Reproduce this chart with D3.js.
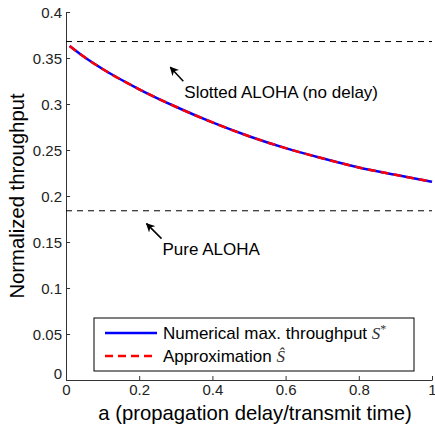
<!DOCTYPE html>
<html>
<head>
<meta charset="utf-8">
<title>Throughput vs propagation delay</title>
<style>
  body { margin: 0; background: #fff; }
  svg { font-family: "Liberation Sans", Arial, sans-serif; }
  .axis path, .axis line { stroke: #333; }
  .axis text { fill: #222; font-size: 15px; }
</style>
</head>
<body>
<script src="https://cdn.jsdelivr.net/npm/d3@7"></script>
<script>
// data
var delay = [0.01, 0.05, 0.1, 0.2, 0.3, 0.4, 0.5, 0.6, 0.7, 0.8, 0.9, 1.0];
var numerical = [0.363, 0.351, 0.338, 0.316, 0.297, 0.280, 0.265, 0.252, 0.241, 0.231, 0.223, 0.2155];
var approx = [0.363, 0.351, 0.338, 0.316, 0.297, 0.280, 0.265, 0.252, 0.241, 0.231, 0.223, 0.2155];
var slotted = 1 / Math.E;        // 0.368
var pure = 1 / (2 * Math.E);     // 0.184
var xTicks = [0, 0.2, 0.4, 0.6, 0.8, 1];
var yTicks = [0, 0.05, 0.1, 0.15, 0.2, 0.25, 0.3, 0.35, 0.4];

var W = 435, H = 430;
var margin = {top: 12, right: 3, bottom: 50, left: 66};

var svg = d3.select("body").append("svg")
  .attr("width", W)
  .attr("height", H);

var x = d3.scaleLinear().domain([0, 1]).range([margin.left, W - margin.right]);
var y = d3.scaleLinear().domain([0, 0.4]).range([H - margin.bottom, margin.top]);

// axes, MATLAB style ticks pointing inward
var xAxis = d3.axisBottom(x).tickValues(xTicks).tickSizeInner(-4).tickSizeOuter(0)
  .tickFormat(function(d) { return d3.format("")(d); });
var yAxis = d3.axisLeft(y).tickValues(yTicks).tickSizeInner(-4).tickSizeOuter(0)
  .tickFormat(function(d) { return d3.format("")(d); });

var gx = svg.append("g").attr("class", "axis")
  .attr("transform", "translate(0," + y(0) + ")")
  .call(xAxis);
gx.selectAll("text").attr("dy", null).attr("y", 15);
gx.selectAll(".tick").filter(function(d) { return d === 1; })
  .select("text").attr("text-anchor", "end").attr("dx", "4");

var gy = svg.append("g").attr("class", "axis")
  .attr("transform", "translate(" + x(0) + ",0)")
  .call(yAxis);
gy.selectAll("text").attr("x", -4).attr("dy", "0.35em");
gy.selectAll(".tick").filter(function(d) { return d === 0; })
  .select("text").attr("dy", "-0.1em");

// reference levels
[slotted, pure].forEach(function(v) {
  svg.append("line")
    .attr("x1", x(0)).attr("x2", x(1))
    .attr("y1", y(v)).attr("y2", y(v))
    .attr("stroke", "#000").attr("stroke-width", 1)
    .attr("stroke-dasharray", "6,5");
});

var line = d3.line().curve(d3.curveMonotoneX);

svg.append("path")
  .attr("d", line(delay.map(function(a, i) { return [x(a), y(numerical[i])]; })))
  .attr("fill", "none").attr("stroke", "#0000ff").attr("stroke-width", 2.5);

svg.append("path")
  .attr("d", line(delay.map(function(a, i) { return [x(a), y(approx[i])]; })))
  .attr("fill", "none").attr("stroke", "#ff0000").attr("stroke-width", 2.5)
  .attr("stroke-dasharray", "8,5");

// arrows + annotations
svg.append("defs").append("marker")
  .attr("id", "head")
  .attr("viewBox", "0 0 10 10")
  .attr("refX", 9).attr("refY", 5)
  .attr("markerWidth", 9).attr("markerHeight", 9)
  .attr("markerUnits", "userSpaceOnUse")
  .attr("orient", "auto")
  .append("path").attr("d", "M0,0 L10,5 L0,10 L3,5 Z").attr("fill", "#000");

function note(tipA, tipV, dx, dy, label, tx, ty) {
  var x2 = x(tipA), y2 = y(tipV);
  svg.append("line")
    .attr("x1", x2 + dx).attr("y1", y2 + dy)
    .attr("x2", x2).attr("y2", y2)
    .attr("stroke", "#000").attr("stroke-width", 1.5)
    .attr("marker-end", "url(#head)");
  svg.append("text")
    .attr("x", x2 + tx).attr("y", y2 + ty)
    .attr("font-size", "17px")
    .text(label);
}
note(0.285, 0.34, 13, 14, "Slotted ALOHA (no delay)", 14, 31);
note(0.22, 0.17, 15, 15, "Pure ALOHA", 16, 31);

// axis labels
svg.append("text")
  .attr("x", (x(0) + x(1)) / 2 + 6).attr("y", 420)
  .attr("text-anchor", "middle")
  .attr("font-size", "20.3px")
  .text("a (propagation delay/transmit time)");

svg.append("text")
  .attr("transform", "translate(24," + ((y(0) + y(0.4)) / 2) + ") rotate(-90)")
  .attr("text-anchor", "middle")
  .attr("font-size", "20.3px")
  .text("Normalized throughput");

// legend
var lg = svg.append("g").attr("transform", "translate(94,318)");
lg.append("rect").attr("width", 320).attr("height", 53)
  .attr("fill", "#fff").attr("stroke", "#000").attr("stroke-width", 1);

var legendItems = [
  {name: "Numerical max. throughput ", sym: "S", sup: "*", color: "#0000ff", dash: null},
  {name: "Approximation  ", sym: "Ŝ", sup: "", color: "#ff0000", dash: "8,5"}
];
legendItems.forEach(function(d, i) {
  var yy = 15 + i * 23;
  lg.append("line")
    .attr("x1", 11).attr("x2", 63).attr("y1", yy).attr("y2", yy)
    .attr("stroke", d.color).attr("stroke-width", 2.5)
    .attr("stroke-dasharray", d.dash);
  var t = lg.append("text").attr("x", 69).attr("y", yy + 6).attr("font-size", "17px");
  t.append("tspan").text(d.name);
  t.append("tspan").attr("font-family", "'Liberation Serif', serif")
    .attr("font-style", "italic").attr("font-size", "17px").attr("fill", "#333").text(d.sym);
  if (d.sup) {
    t.append("tspan").attr("font-family", "'Liberation Serif', serif")
      .attr("font-size", "12px").attr("dy", "-6").attr("fill", "#333").text(d.sup);
  }
});
</script>
</body>
</html>
